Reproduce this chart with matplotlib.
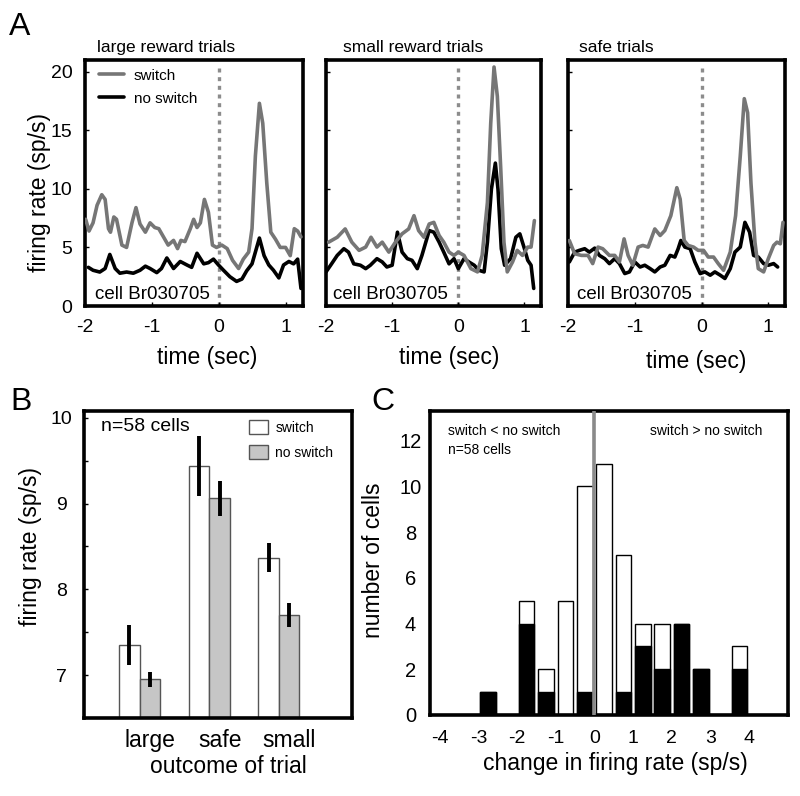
import matplotlib
matplotlib.use("Agg")
import matplotlib.pyplot as plt
import numpy as np

plt.rcParams['font.family'] = ['Liberation Sans', 'DejaVu Sans']
plt.rcParams['axes.unicode_minus'] = False

# ---- panel A: example cell, firing rate aligned on the switch (t = 0) ----
large_sw_t = [-1.99, -1.94, -1.88, -1.82, -1.75, -1.70, -1.65, -1.62, -1.57, -1.53,
              -1.45, -1.38, -1.30, -1.24, -1.18, -1.10, -1.03, -0.96, -0.90, -0.83,
              -0.76, -0.68, -0.62, -0.57, -0.51, -0.43, -0.38, -0.33, -0.28, -0.22,
              -0.16, -0.10, -0.04, 0.04, 0.12, 0.20, 0.29, 0.36, 0.44, 0.49,
              0.54, 0.60, 0.65, 0.71, 0.77, 0.84, 0.91, 0.99, 1.06, 1.12, 1.17, 1.22]
large_sw = [7.4, 6.4, 7.1, 8.6, 9.5, 9.1, 6.6, 6.3, 7.6, 7.4,
            5.2, 5.0, 7.1, 8.4, 7.0, 6.3, 7.1, 6.7, 6.6, 5.9,
            5.2, 5.6, 4.9, 5.6, 5.5, 6.6, 7.4, 6.7, 7.1, 9.1,
            8.0, 5.2, 5.0, 5.2, 4.9, 3.9, 3.2, 4.0, 4.6, 6.6,
            12.8, 17.3, 15.6, 10.5, 6.3, 5.7, 5.0, 5.0, 4.3, 6.6, 6.4, 5.9]
large_ns_t = [-1.95, -1.88, -1.78, -1.70, -1.63, -1.55, -1.48, -1.38, -1.28, -1.18,
              -1.10, -1.03, -0.93, -0.86, -0.78, -0.68, -0.58, -0.48, -0.41, -0.33,
              -0.23, -0.16, -0.085, -0.01, 0.065, 0.16, 0.26, 0.34, 0.41, 0.49,
              0.60, 0.67, 0.74, 0.81, 0.89, 0.96, 1.04, 1.11, 1.17, 1.22]
large_ns = [3.3, 3.05, 2.9, 3.2, 4.4, 3.2, 2.8, 2.9, 2.8, 3.05,
            3.4, 3.2, 2.85, 3.2, 4.1, 3.2, 3.8, 3.5, 3.3, 4.5,
            3.6, 3.7, 4.0, 3.5, 3.05, 2.5, 2.1, 2.3, 3.0, 3.6,
            5.8, 4.3, 3.5, 3.05, 2.4, 3.5, 3.8, 3.6, 4.0, 1.5]

small_sw_t = [-1.96, -1.83, -1.71, -1.61, -1.50, -1.40, -1.32, -1.23, -1.15, -1.05,
              -0.95, -0.85, -0.75, -0.67, -0.60, -0.52, -0.44, -0.37, -0.29, -0.22,
              -0.14, -0.065, 0.0, 0.086, 0.19, 0.29, 0.36, 0.44, 0.49, 0.54,
              0.59, 0.64, 0.69, 0.74, 0.82, 0.89, 0.97, 1.05, 1.10, 1.15]
small_sw = [5.45, 5.87, 6.58, 5.45, 4.75, 5.03, 5.87, 5.03, 5.45, 4.6,
            5.45, 6.16, 6.58, 7.71, 6.44, 5.87, 7.0, 7.14, 6.02, 5.45,
            4.6, 4.32, 4.6, 4.32, 3.19, 2.91, 4.32, 8.84, 15.6, 20.4,
            17.9, 11.9, 5.45, 2.91, 3.76, 4.75, 4.32, 5.03, 5.03, 7.29]
small_ns_t = [-2.0, -1.93, -1.83, -1.73, -1.66, -1.58, -1.48, -1.40, -1.33, -1.23,
              -1.15, -1.08, -1.00, -0.92, -0.85, -0.77, -0.70, -0.62, -0.55, -0.44,
              -0.37, -0.29, -0.22, -0.14, -0.065, 0.0, 0.086, 0.16, 0.24, 0.31,
              0.39, 0.44, 0.50, 0.56, 0.60, 0.65, 0.70, 0.79, 0.87, 0.93,
              1.00, 1.05, 1.10, 1.14]
small_ns = [2.91, 3.48, 4.32, 4.89, 4.6, 3.6, 3.48, 3.19, 3.48, 4.04,
            3.76, 3.33, 3.48, 6.30, 4.6, 4.04, 3.9, 3.19, 4.32, 6.44,
            6.30, 5.45, 4.6, 3.6, 4.04, 3.19, 4.04, 3.76, 3.48, 3.05,
            2.91, 5.45, 9.97, 12.2, 9.97, 4.89, 3.48, 4.04, 5.87, 6.16,
            4.89, 3.9, 3.48, 1.5]

safe_sw_t = [-1.98, -1.90, -1.80, -1.70, -1.63, -1.55, -1.48, -1.38, -1.30, -1.23,
             -1.16, -1.10, -1.03, -0.95, -0.88, -0.80, -0.70, -0.62, -0.55, -0.46,
             -0.37, -0.32, -0.26, -0.20, -0.12, -0.05, 0.03, 0.10, 0.18, 0.25,
             0.33, 0.43, 0.51, 0.58, 0.64, 0.69, 0.74, 0.80, 0.85, 0.93,
             1.00, 1.08, 1.13, 1.18, 1.22]
safe_sw = [5.59, 4.46, 4.32, 4.32, 3.62, 5.03, 4.89, 4.32, 4.32, 3.76,
           5.73, 4.32, 3.48, 5.03, 5.17, 5.03, 6.58, 6.02, 6.44, 7.71,
           10.1, 9.12, 5.59, 5.17, 5.03, 4.75, 4.75, 4.18, 4.18, 3.62,
           3.05, 4.6, 7.71, 12.8, 17.7, 16.5, 10.5, 5.45, 3.19, 2.91,
           4.04, 5.17, 5.45, 5.31, 7.14]
safe_ns_t = [-1.98, -1.90, -1.83, -1.75, -1.68, -1.60, -1.53, -1.45, -1.38, -1.30,
             -1.23, -1.15, -1.08, -1.0, -0.92, -0.85, -0.77, -0.70, -0.62, -0.55,
             -0.47, -0.40, -0.35, -0.31, -0.25, -0.17, -0.10, -0.02, 0.05, 0.13,
             0.20, 0.28, 0.35, 0.43, 0.50, 0.58, 0.65, 0.72, 0.78, 0.85,
             0.93, 1.0, 1.08, 1.14]
safe_ns = [3.76, 4.6, 4.75, 4.89, 4.6, 4.94, 4.32, 4.04, 3.62, 4.04,
           3.62, 2.77, 2.91, 3.76, 3.33, 3.48, 3.19, 2.91, 3.33, 3.48,
           4.32, 4.18, 4.89, 5.59, 5.03, 4.89, 3.76, 2.77, 2.91, 2.63,
           2.91, 2.63, 2.35, 3.19, 4.6, 5.03, 7.14, 6.30, 4.32, 4.18,
           3.62, 3.48, 3.62, 3.33]

# ---- panel B: population mean firing rate ----
outcomes = ["large", "safe", "small"]
rate_switch = [7.35, 9.44, 8.37]
rate_noswitch = [6.95, 9.06, 7.70]
sem_switch = [0.23, 0.35, 0.17]
sem_noswitch = [0.09, 0.20, 0.14]

# ---- panel C: histogram of switch - no switch differences ----
bin_centers = [-2.75, -1.75, -1.25, -0.75, -0.25, 0.25, 0.75, 1.25, 1.75, 2.25, 2.75, 3.75]
n_cells = [1, 5, 2, 5, 10, 11, 7, 4, 4, 4, 2, 3]
n_sig = [1, 4, 1, 0, 1, 0, 1, 3, 2, 4, 2, 2]

GRAY_TRACE = "#767676"
SPINE_W = 2.6

W, H = 800, 796
fig = plt.figure(figsize=(W / 100, H / 100), dpi=100)


def axes_px(x0, y0, x1, y1):
    return fig.add_axes([x0 / W, 1 - y1 / H, (x1 - x0) / W, (y1 - y0) / H])


def style_spines(ax):
    for s in ax.spines.values():
        s.set_linewidth(SPINE_W)


# Panel A
panels = [
    ("large reward trials", large_sw_t, large_sw, large_ns_t, large_ns, (85, 303), 0.055),
    ("small reward trials", small_sw_t, small_sw, small_ns_t, small_ns, (326, 541), 0.079),
    ("safe trials", safe_sw_t, safe_sw, safe_ns_t, safe_ns, (568, 785), 0.05),
]
xlab_x = [0.56, 0.575, 0.59]
xlab_y = [-0.21, -0.21, -0.225]
cell_x = [0.046, 0.034, 0.04]
for i, (title, t_sw, r_sw, t_ns, r_ns, (x0, x1), tx) in enumerate(panels):
    ax = axes_px(x0, 60, x1, 306)
    style_spines(ax)
    ax.axvline(0, ymax=0.97, color="#8c8c8c", lw=2.4, ls=(0, (1.2, 1.4)), zorder=1)
    ax.plot(t_ns, r_ns, color="black", lw=2.6, solid_joinstyle="round",
            solid_capstyle="round", label="no switch", zorder=2)
    ax.plot(t_sw, r_sw, color=GRAY_TRACE, lw=2.6, solid_joinstyle="round",
            solid_capstyle="round", label="switch", zorder=3)
    ax.set_xlim(-2.0, 1.25)
    ax.set_ylim(0, 21)
    ax.set_xticks([-2, -1, 0, 1])
    ax.set_yticks([0, 5, 10, 15, 20])
    ax.tick_params(direction="in", length=3, width=1, labelsize=14, pad=9)
    if i > 0:
        ax.set_yticklabels([])
    else:
        ax.set_ylabel("firing rate (sp/s)", fontsize=16.5, va="center")
        ax.yaxis.set_label_coords(-0.21, 0.463)
        h, l = ax.get_legend_handles_labels()
        ax.legend(h[::-1], l[::-1], loc="upper left", bbox_to_anchor=(0.065, 0.965),
                  frameon=False, fontsize=11, handlelength=1.65, handletextpad=0.6,
                  labelspacing=0.6, borderpad=0, borderaxespad=0)
    ax.set_xlabel("time (sec)", fontsize=16.5, va="center")
    ax.xaxis.set_label_coords(xlab_x[i], xlab_y[i])
    ax.text(tx, 1.049, title, transform=ax.transAxes, ha="left", va="center", fontsize=12.5)
    ax.text(cell_x[i], 0.045, "cell Br030705", transform=ax.transAxes,
            ha="left", va="center", fontsize=13.5)

# Panel B
axB = axes_px(84, 411, 352, 718)
style_spines(axB)
x = np.arange(len(outcomes))
w = 0.295
axB.bar(x - w / 2, rate_switch, w, color="white", edgecolor="#555555", lw=1, label="switch")
axB.bar(x + w / 2, rate_noswitch, w, color="#c6c6c6", edgecolor="#555555", lw=1, label="no switch")
axB.errorbar(x - w / 2, rate_switch, yerr=sem_switch, fmt="none", ecolor="black", elinewidth=2.8, capsize=0)
axB.errorbar(x + w / 2, rate_noswitch, yerr=sem_noswitch, fmt="none", ecolor="black", elinewidth=2.8, capsize=0)
axB.set_xlim(-0.8, 3.05)
axB.set_ylim(6.5, 10.08)
axB.set_xticks(x + 0.15)
axB.set_xticklabels(outcomes)
axB.set_yticks([7, 8, 9, 10])
axB.set_yticks([7.5, 8.5, 9.5], minor=True)
axB.tick_params(axis="x", length=0, labelsize=16.5, pad=8)
axB.tick_params(axis="y", which="both", direction="in", length=3, width=1, labelsize=14, pad=16)
plt.setp(axB.get_yticklabels(), ha="center")
axB.set_ylabel("firing rate (sp/s)", fontsize=16.5, va="center")
axB.yaxis.set_label_coords(-0.199, 0.558)
axB.set_xlabel("outcome of trial", fontsize=16.5, va="center")
axB.xaxis.set_label_coords(0.537, -0.159)
axB.text(0.065, 0.95, "n=58 cells", transform=axB.transAxes, ha="left", va="center", fontsize=14)
axB.legend(loc="upper left", bbox_to_anchor=(0.615, 0.97), frameon=False, fontsize=10,
           handlelength=1.4, handleheight=1.15, handletextpad=0.5, labelspacing=0.75,
           borderpad=0, borderaxespad=0)

# Panel C
axC = axes_px(430, 411, 788, 715)
style_spines(axC)
axC.bar(bin_centers, n_cells, 0.4, color="white", edgecolor="black", lw=1)
axC.bar(bin_centers, n_sig, 0.4, color="black", edgecolor="black", lw=1)
axC.axvline(0, color="#8a8a8a", lw=2.6, zorder=3)
axC.set_xlim(-4.25, 5.0)
axC.set_ylim(0, 13.3)
axC.set_xticks(range(-4, 5))
axC.set_yticks(range(0, 13, 2))
axC.tick_params(axis="x", length=0, labelsize=14, pad=11)
axC.tick_params(axis="y", length=0, labelsize=14.5, pad=14)
plt.setp(axC.get_yticklabels(), ha="center")
axC.set_ylabel("number of cells", fontsize=16.5, va="center")
axC.yaxis.set_label_coords(-0.159, 0.51)
axC.set_xlabel("change in firing rate (sp/s)", fontsize=16.5, va="center")
axC.xaxis.set_label_coords(0.519, -0.158)
axC.text(0.051, 0.935, "switch < no switch", transform=axC.transAxes, ha="left", va="center", fontsize=10)
axC.text(0.051, 0.872, "n=58 cells", transform=axC.transAxes, ha="left", va="center", fontsize=10)
axC.text(0.614, 0.935, "switch > no switch", transform=axC.transAxes, ha="left", va="center", fontsize=10)

# panel letters
for letter, px, py in [("A", 20, 27), ("B", 21, 402), ("C", 383, 402)]:
    fig.text(px / W, 1 - py / H, letter, ha="center", va="center", fontsize=23)

fig.savefig("out.png", dpi=100)
